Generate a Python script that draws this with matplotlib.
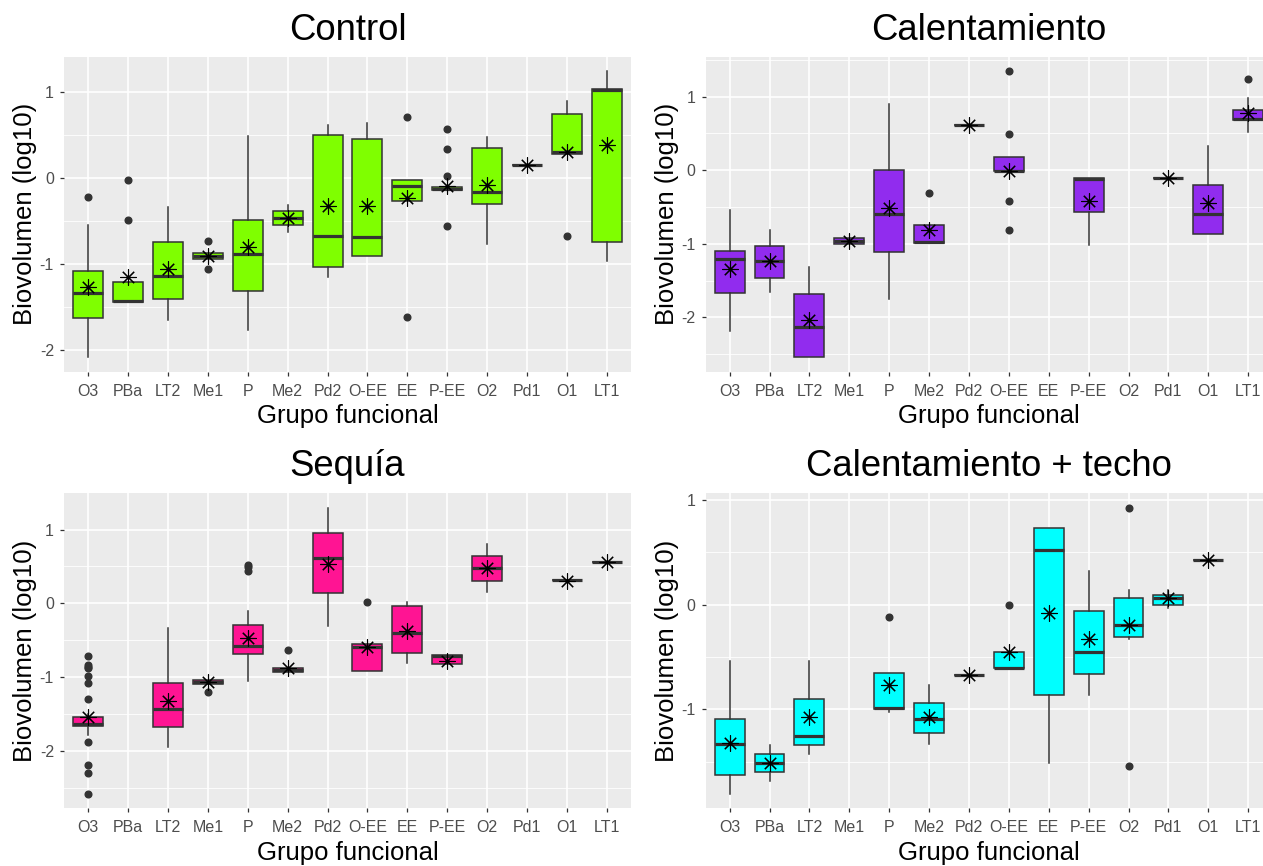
import numpy as np
import matplotlib
matplotlib.use('Agg')
import matplotlib.pyplot as plt

plt.rcParams['font.family'] = ['Liberation Sans', 'DejaVu Sans']

nan = np.nan
grupos = ['O3', 'PBa', 'LT2', 'Me1', 'P', 'Me2', 'Pd2', 'O-EE', 'EE', 'P-EE', 'O2', 'Pd1', 'O1', 'LT1']

# Control
ctrl_q1 = [-1.63, -1.44, -1.415, -0.95, -1.32, -0.555, -1.04, -0.915, -0.27, -0.145, -0.30, 0.148, 0.277, -0.752]
ctrl_med = [-1.345, -1.435, -1.14, -0.905, -0.89, -0.465, -0.68, -0.685, -0.10, -0.13, -0.17, 0.148, 0.304, 1.025]
ctrl_q3 = [-1.085, -1.21, -0.75, -0.88, -0.49, -0.39, 0.50, 0.455, -0.02, -0.105, 0.343, 0.148, 0.737, 1.033]
ctrl_lo = [-2.09, -1.44, -1.66, -0.95, -1.77, -0.63, -1.16, -0.915, -0.27, -0.145, -0.776, 0.148, 0.277, -0.963]
ctrl_hi = [-0.545, -1.21, -0.34, -0.88, 0.49, -0.32, 0.61, 0.635, -0.02, -0.105, 0.47, 0.148, 0.897, 1.243]
ctrl_mean = [-1.27, -1.15, -1.06, -0.905, -0.81, -0.465, -0.33, -0.33, -0.24, -0.09, -0.08, 0.148, 0.30, 0.38]
ctrl_out = [[-0.22], [-0.03, -0.49], [], [-0.74, -1.06], [], [], [], [],
            [0.705, -1.62], [0.565, 0.33, 0.02, -0.565], [], [], [-0.675], []]

# Calentamiento
cal_q1 = [-1.667, -1.464, -2.542, -1.006, -1.11, -0.988, 0.612, -0.009, nan, -0.571, nan, -0.104, -0.861, 0.68]
cal_med = [-1.20, -1.228, -2.13, -0.96, -0.589, -0.974, 0.612, -0.005, nan, -0.118, nan, -0.104, -0.594, 0.689]
cal_q3 = [-1.097, -1.029, -1.681, -0.915, 0.0, -0.748, 0.612, 0.181, nan, -0.113, nan, -0.104, -0.204, 0.82]
cal_lo = [-2.184, -1.654, -2.542, -1.006, -1.754, -0.988, 0.612, -0.009, nan, -1.02, nan, -0.104, -0.861, 0.521]
cal_hi = [-0.544, -0.816, -1.31, -0.915, 0.897, -0.748, 0.612, 0.181, nan, -0.113, nan, -0.104, 0.331, 0.983]
cal_mean = [-1.346, -1.237, -2.04, -0.96, -0.512, -0.807, 0.612, -0.01, nan, -0.42, nan, -0.113, -0.44, 0.77]
cal_out = [[], [], [], [], [], [-0.313], [], [1.346, 0.489, -0.421, -0.807], [], [], [], [], [], [1.241]]

# Sequia
seq_q1 = [-1.658, nan, -1.676, -1.089, -0.687, -0.926, 0.145, -0.913, -0.673, -0.822, 0.307, nan, 0.321, 0.556]
seq_med = [-1.627, nan, -1.423, -1.062, -0.574, -0.90, 0.615, -0.592, -0.407, -0.709, 0.483, nan, 0.321, 0.556]
seq_q3 = [-1.532, nan, -1.071, -1.035, -0.289, -0.872, 0.949, -0.547, -0.036, -0.696, 0.637, nan, 0.321, 0.556]
seq_lo = [-1.785, nan, -1.939, -1.089, -1.044, -0.926, -0.303, -0.913, -0.804, -0.822, 0.158, nan, 0.321, 0.556]
seq_hi = [-1.50, nan, -0.339, -1.035, -0.108, -0.872, 1.297, -0.547, 0.018, -0.696, 0.804, nan, 0.321, 0.556]
seq_mean = [-1.536, nan, -1.32, -1.06, -0.474, -0.868, 0.529, -0.587, -0.38, -0.777, 0.474, nan, 0.307, 0.556]
seq_out = [[-0.709, -0.83, -0.86, -0.877, -0.98, -1.08, -1.288, -1.871, -2.183, -2.29, -2.58], [], [],
           [-1.197], [0.52, 0.488, 0.443], [-0.637], [], [0.018], [], [], [], [], [], []]

# Calentamiento + techo
tec_q1 = [-1.626, -1.60, -1.344, nan, -0.992, -1.229, -0.67, -0.608, -0.864, -0.659, -0.31, -0.003, 0.432, nan]
tec_med = [-1.331, -1.514, -1.254, nan, -0.986, -1.088, -0.67, -0.602, 0.525, -0.454, -0.198, 0.067, 0.432, nan]
tec_q3 = [-1.094, -1.43, -0.902, nan, -0.653, -0.941, -0.67, -0.451, 0.736, -0.064, 0.067, 0.093, 0.432, nan]
tec_lo = [-1.808, -1.68, -1.424, nan, -1.024, -1.331, -0.67, -0.608, -1.514, -0.858, -0.323, -0.032, 0.432, nan]
tec_hi = [-0.538, -1.338, -0.538, nan, -0.653, -0.771, -0.67, -0.451, 0.736, 0.326, 0.144, 0.144, 0.432, nan]
tec_mean = [-1.322, -1.514, -1.075, nan, -0.762, -1.075, -0.67, -0.451, -0.08, -0.33, -0.195, 0.061, 0.426, nan]
tec_out = [[], [], [], [], [-0.115], [], [], [0.0], [], [], [0.928, -1.537], [], [], []]

paneles = [
    ('Control', '#7FFF00', ctrl_q1, ctrl_med, ctrl_q3, ctrl_lo, ctrl_hi, ctrl_mean, ctrl_out),
    ('Calentamiento', '#912CEE', cal_q1, cal_med, cal_q3, cal_lo, cal_hi, cal_mean, cal_out),
    ('Sequía', '#FF1493', seq_q1, seq_med, seq_q3, seq_lo, seq_hi, seq_mean, seq_out),
    ('Calentamiento + techo', '#00FFFF', tec_q1, tec_med, tec_q3, tec_lo, tec_hi, tec_mean, tec_out),
]

W, H = 1263, 866
fig = plt.figure(figsize=(W / 100, H / 100), dpi=100)
fig.patch.set_facecolor('white')

# panel boxes in pixels: left, top
pw, ph = 566.4, 315.0
corners = [(64.3, 56.7), (705.7, 56.7), (64.3, 493.3), (705.7, 493.3)]

edge = '#333333'
for (titulo, color, q1, med, q3, lo, hi, mean, out), (px, py) in zip(paneles, corners):
    ax = fig.add_axes([px / W, 1 - (py + ph) / H, pw / W, ph / H])
    ax.set_facecolor('#EBEBEB')
    for s in ax.spines.values():
        s.set_visible(False)
    ax.set_axisbelow(True)

    stats, pos = [], []
    for i in range(len(grupos)):
        if np.isnan(med[i]):
            continue
        stats.append(dict(q1=q1[i], med=med[i], q3=q3[i], whislo=lo[i], whishi=hi[i],
                          fliers=out[i], mean=mean[i]))
        pos.append(i + 1)
    ax.bxp(stats, positions=pos, widths=0.75, patch_artist=True, showcaps=False,
           showmeans=False, showfliers=True,
           boxprops=dict(facecolor=color, edgecolor=edge, linewidth=1.1),
           medianprops=dict(color=edge, linewidth=2.3, solid_capstyle='butt'),
           whiskerprops=dict(color=edge, linewidth=1.1),
           flierprops=dict(marker='o', markerfacecolor=edge, markeredgecolor=edge,
                           markersize=4.8, linestyle='none'))
    ax.plot(pos, [s['mean'] for s in stats], linestyle='none', marker=(8, 2, 0),
            markersize=11.5, markeredgewidth=0.8, color='black', zorder=5)

    # ggplot-like 5% expansion of the data range
    vals = [v for s in stats for v in [s['whislo'], s['whishi']] + list(s['fliers'])]
    vmin, vmax = min(vals), max(vals)
    pad = 0.05 * (vmax - vmin)
    ax.set_ylim(vmin - pad, vmax + pad)
    ax.set_xlim(0.4, len(grupos) + 0.6)

    ax.set_xticks(range(1, len(grupos) + 1))
    ax.set_xticklabels(grupos)
    yt = [t for t in [-2, -1, 0, 1] if vmin - pad <= t <= vmax + pad]
    ax.set_yticks(yt)
    ax.set_yticklabels([str(t) if t >= 0 else '-' + str(-t) for t in yt])
    ym = [t for t in [-2.5, -1.5, -0.5, 0.5, 1.5] if vmin - pad <= t <= vmax + pad]
    ax.set_yticks(ym, minor=True)
    ax.grid(True, which='major', color='white', linewidth=1.2)
    ax.grid(True, which='minor', axis='y', color='white', linewidth=0.6)
    ax.tick_params(which='major', length=3.0, width=0.9, color=edge, labelcolor='#4D4D4D',
                   labelsize=11.5)
    ax.tick_params(axis='x', which='major', pad=5.5)
    ax.tick_params(axis='y', which='major', pad=4.5)
    ax.tick_params(which='minor', length=0)

    ax.set_xlabel('Grupo funcional', fontsize=18.5, va='center')
    ax.xaxis.set_label_coords(0.5, -0.142)
    ax.set_ylabel('Biovolumen (log10)', fontsize=18.5, va='center')
    ax.yaxis.set_label_coords(-0.069, 0.5)
    ax.text(0.5, 1.084, titulo, transform=ax.transAxes, ha='center', va='center',
            fontsize=26.3)

plt.savefig('out.png', dpi=100)
